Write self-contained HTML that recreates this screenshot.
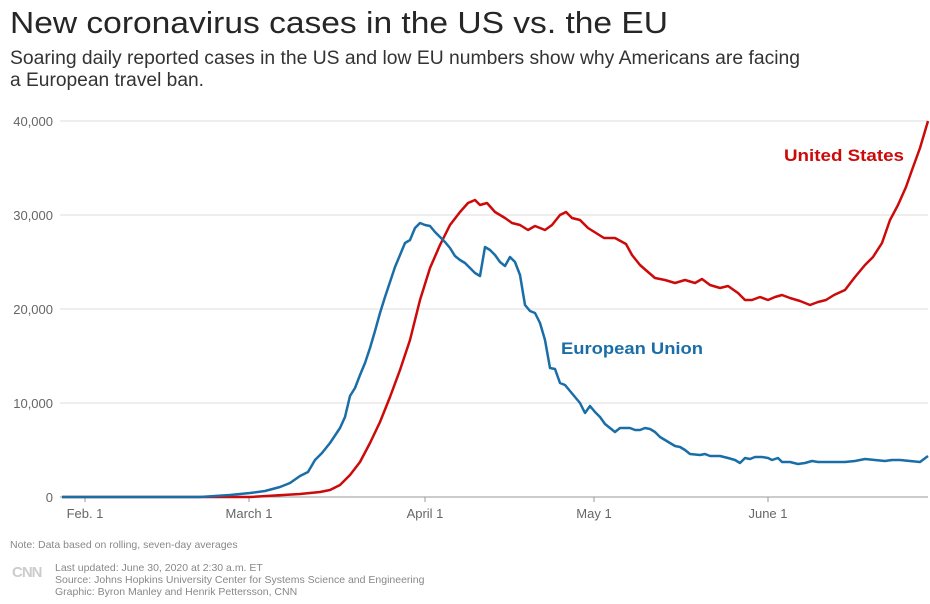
<!DOCTYPE html>
<html><head><meta charset="utf-8"><style>
body{margin:0;background:#fff;width:930px;height:599px;overflow:hidden;font-family:"Liberation Sans",sans-serif;}
</style></head><body>
<svg width="930" height="599" xmlns="http://www.w3.org/2000/svg" font-family="Liberation Sans, sans-serif">
<text x="10" y="33" font-size="31" fill="#262626" textLength="658" lengthAdjust="spacingAndGlyphs">New coronavirus cases in the US vs. the EU</text>
<text x="10" y="64" font-size="19" fill="#333" textLength="790" lengthAdjust="spacingAndGlyphs">Soaring daily reported cases in the US and low EU numbers show why Americans are facing</text>
<text x="10" y="86" font-size="19" fill="#333" textLength="194" lengthAdjust="spacingAndGlyphs">a European travel ban.</text>
<g stroke="#ddd" stroke-width="1">
<line x1="60" y1="121" x2="928" y2="121"/><line x1="60" y1="215" x2="928" y2="215"/>
<line x1="60" y1="309" x2="928" y2="309"/><line x1="60" y1="403" x2="928" y2="403"/>
</g>
<line x1="60" y1="497" x2="928" y2="497" stroke="#999"/>
<g stroke="#999"><line x1="85" y1="497" x2="85" y2="502"/><line x1="249" y1="497" x2="249" y2="502"/><line x1="425" y1="497" x2="425" y2="502"/><line x1="594" y1="497" x2="594" y2="502"/><line x1="768" y1="497" x2="768" y2="502"/></g>
<g font-size="13" fill="#666" text-anchor="end">
<text x="53" y="126">40,000</text><text x="53" y="220">30,000</text><text x="53" y="314">20,000</text><text x="53" y="408">10,000</text><text x="53" y="502">0</text>
</g>
<g font-size="13" fill="#666" text-anchor="middle">
<text x="85" y="518">Feb. 1</text><text x="249" y="518">March 1</text><text x="425" y="518">April 1</text><text x="594" y="518">May 1</text><text x="768" y="518">June 1</text>
</g>
<polyline fill="none" stroke="#cc0a0a" stroke-width="2.5" stroke-linejoin="round" points="62,497 250,497 300,494 320,492 330,490 340,485 350,475 360,462 370,443 380,422 390,397 400,370 410,340 420,300 430,268 440,245 450,225 460,212 468,203 475,200 480,205 487,203 495,212 505,218 512,223 520,225 528,230 535,226 545,230 552,225 560,215 566,212 572,218 580,220 588,228 596,233 604,238 615,238 626,244 632,255 640,265 648,272 655,278 665,280 675,283 685,280 695,283 702,279 710,285 720,288 728,286 738,293 745,300 752,300 760,297 768,300 775,297 782,295 790,298 800,301 810,305 818,302 826,300 834,295 845,290 855,277 865,265 873,257 882,243 890,220 898,205 906,187 912,170 920,148 928,121"/>
<polyline fill="none" stroke="#1a6ea8" stroke-width="2.5" stroke-linejoin="round" points="62,497 200,497 230,495 250,493 265,491 280,487 290,483 300,476 308,472 315,460 322,453 330,443 340,428 345,417 350,396 355,388 360,375 365,363 370,348 375,331 380,313 385,297 390,282 395,267 400,255 405,243 410,240 415,228 420,223 425,225 430,226 435,232 440,237 445,242 450,248 455,256 460,260 465,263 470,268 475,273 480,276 485,247 490,250 495,255 500,262 505,266 510,257 515,262 520,275 525,305 530,311 535,313 540,323 545,340 550,368 555,369 560,383 565,385 570,391 575,397 580,403 585,413 590,406 595,412 600,417 605,424 610,428 615,432 620,428 625,428 630,428 635,430 640,430 645,428 650,429 655,432 660,437 665,440 670,443 675,446 680,447 685,450 690,454 700,455 705,454 710,456 720,456 728,458 735,460 740,463 745,458 750,459 755,457 762,457 768,458 772,460 778,458 782,462 790,462 798,464 805,463 812,461 818,462 825,462 835,462 845,462 855,461 865,459 875,460 885,461 892,460 900,460 910,461 920,462 928,456"/>
<text x="784" y="161" font-size="17" font-weight="bold" fill="#cc0a0a" textLength="120" lengthAdjust="spacingAndGlyphs">United States</text>
<text x="561" y="354" font-size="17" font-weight="bold" fill="#1a6ea8" textLength="142" lengthAdjust="spacingAndGlyphs">European Union</text>
<text x="10" y="548" font-size="10.5" fill="#888">Note: Data based on rolling, seven-day averages</text>
<text x="12" y="577" font-size="15" font-weight="bold" fill="#ccc" letter-spacing="-1">CNN</text>
<g font-size="10.5" fill="#888">
<text x="55" y="571">Last updated: June 30, 2020 at 2:30 a.m. ET</text>
<text x="55" y="583">Source: Johns Hopkins University Center for Systems Science and Engineering</text>
<text x="55" y="595">Graphic: Byron Manley and Henrik Pettersson, CNN</text>
</g>
</svg>
</body></html>
